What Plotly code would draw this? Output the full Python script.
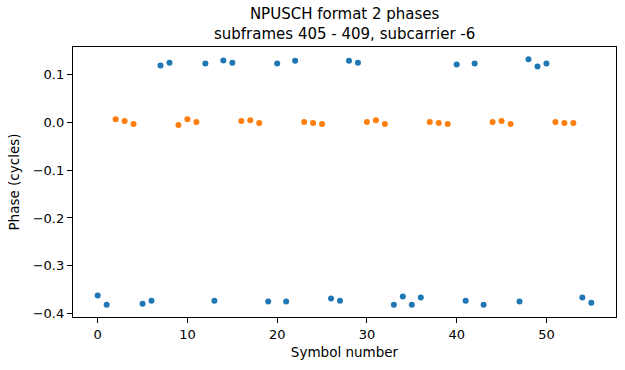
import plotly.graph_objects as go

blue_x = [0, 1, 5, 6, 7, 8, 12, 13, 14, 15, 19, 20, 21, 22, 26, 27, 28, 29,
          33, 34, 35, 36, 40, 41, 42, 43, 47, 48, 49, 50, 54, 55]
blue_y = [-0.362, -0.381, -0.379, -0.3725, 0.118, 0.124, 0.122, -0.3725, 0.1285, 0.124,
          -0.3745, 0.122, -0.3745, 0.128, -0.368, -0.3725, 0.128, 0.124,
          -0.381, -0.364, -0.381, -0.366, 0.120, -0.3725, 0.122, -0.381,
          -0.3745, 0.131, 0.116, 0.122, -0.366, -0.3767]
orange_x = [2, 3, 4, 9, 10, 11, 16, 17, 18, 23, 24, 25,
            30, 31, 32, 37, 38, 39, 44, 45, 46, 51, 52, 53]
orange_y = [0.006, 0.002, -0.004, -0.006, 0.006, 0.0, 0.002, 0.004, -0.002, 0.0, -0.002, -0.004,
            0.0, 0.004, -0.004, 0.0, -0.002, -0.004, 0.0, 0.002, -0.004, 0.0, -0.002, -0.002]

x_ticks = [0, 10, 20, 30, 40, 50]
y_ticks = [0.1, 0.0, -0.1, -0.2, -0.3, -0.4]
y_ticktext = ["0.1", "0.0", "\u22120.1", "\u22120.2", "\u22120.3", "\u22120.4"]

title_lines = ["NPUSCH format 2 phases", "subframes 405 - 409, subcarrier -6"]
x_title = "Symbol number"
y_title = "Phase (cycles)"

FONT = "DejaVu Sans"

fig = go.Figure()
fig.add_trace(go.Scatter(x=blue_x, y=blue_y, mode="markers",
                         marker=dict(color="#1f77b4", size=6, line=dict(width=0)),
                         showlegend=False, cliponaxis=False))
fig.add_trace(go.Scatter(x=orange_x, y=orange_y, mode="markers",
                         marker=dict(color="#ff7f0e", size=6, line=dict(width=0)),
                         showlegend=False, cliponaxis=False))

axis_common = dict(showgrid=False, zeroline=False, showline=True, linecolor="#000000",
                   linewidth=1.3, mirror=True, ticks="outside", ticklen=5, tickwidth=1.3,
                   tickcolor="#000000", automargin=False,
                   tickfont=dict(family=FONT, size=13, color="black"))

fig.update_layout(
    width=625, height=370,
    paper_bgcolor="white", plot_bgcolor="white",
    margin=dict(l=73, r=9, t=47, b=53, autoexpand=False),
    font=dict(family=FONT, color="black"),
    xaxis=dict(range=[-2.75, 57.75], tickvals=x_ticks,
               title=dict(text=x_title, font=dict(family=FONT, size=13.5), standoff=6),
               **axis_common),
    yaxis=dict(range=[-0.4066, 0.1566], tickvals=y_ticks, ticktext=y_ticktext,
               title=dict(text=y_title, font=dict(family=FONT, size=13.5), standoff=9),
               **axis_common),
    annotations=[
        dict(text="<br>".join(title_lines), x=0.5, y=1, xref="paper", yref="paper",
             xanchor="center", yanchor="bottom", yshift=3, showarrow=False,
             borderpad=0, font=dict(family=FONT, size=15, color="black")),
    ],
)

fig.write_html("out.html", config={"displayModeBar": False},
               post_script="document.body.style.margin='0';document.body.style.padding='0';")
